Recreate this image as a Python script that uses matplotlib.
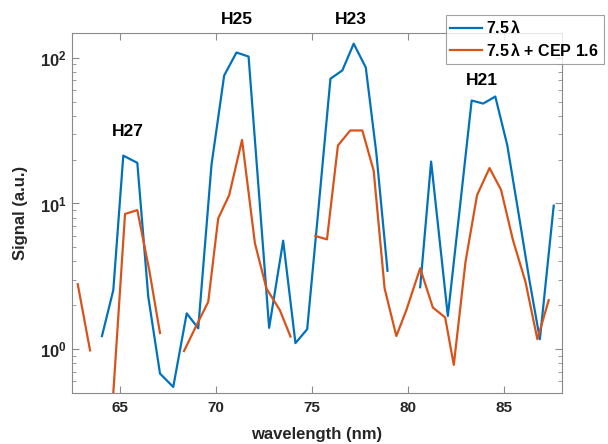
import numpy as np
import matplotlib
matplotlib.use("Agg")
import matplotlib.pyplot as plt
from matplotlib.ticker import LogLocator, NullFormatter

plt.rcParams['font.family'] = ['Liberation Sans', 'DejaVu Sans']
plt.rcParams['font.weight'] = 'bold'
plt.rcParams['mathtext.fontset'] = 'custom'
plt.rcParams['mathtext.rm'] = 'Liberation Sans:bold'
plt.rcParams['mathtext.bf'] = 'Liberation Sans:bold'
plt.rcParams['mathtext.it'] = 'Liberation Sans:bold'

nan = np.nan

# 7.5 lambda (blue)
wl_a = [64.06, 64.65, 65.17, 65.90, 66.47, 67.08, 67.77, 68.47, 69.07, 69.76,
        70.42, 71.06, 71.69, 72.20, 72.76, 73.49, 74.13, 74.74, 75.35, 75.95,
        76.57, 77.16, 77.79, 78.34, 78.92, 79.60, 80.62, 81.19, 82.06, 82.68,
        83.30, 83.90, 84.53, 85.15, 85.75, 86.30, 86.85, 87.57]
sig_a = [1.23, 2.54, 21.3, 19.0, 2.29, 0.68, 0.55, 1.76, 1.39, 18.4,
         75.6, 108.7, 102.0, 13.3, 1.40, 5.55, 1.10, 1.37, 9.9, 71.8,
         81.9, 125.0, 85.8, 22.1, 3.45, nan, 2.66, 19.4, 1.69, 9.2,
         50.9, 48.5, 54.2, 25.2, 8.4, 3.0, 1.17, 9.66]

# 7.5 lambda + CEP 1.6 (orange)
wl_b = [62.80, 63.44, 64.00, 64.65, 65.26, 65.90, 66.52, 67.08, 67.70, 68.33,
        68.95, 69.59, 70.11, 70.68, 71.35, 72.02, 72.62, 73.32, 73.87, 74.50,
        75.17, 75.77, 76.34, 76.98, 77.61, 78.20, 78.77, 79.38, 79.90, 80.62,
        81.28, 81.92, 82.37, 82.98, 83.58, 84.23, 84.83, 85.45, 86.10, 86.72,
        87.31]
sig_b = [2.79, 0.98, nan, 0.50, 8.47, 9.0, 3.49, 1.29, nan, 0.97,
         1.43, 2.11, 7.9, 11.4, 27.3, 5.33, 2.61, 1.85, 1.22, nan,
         5.98, 5.67, 25.0, 31.7, 31.7, 16.8, 2.61, 1.23, 1.85, 3.59,
         1.93, 1.65, 0.78, 3.98, 11.4, 17.5, 12.4, 5.6, 2.9, 1.17,
         2.17]

harmonics = ['H27', 'H25', 'H23', 'H21']
h_x = [65.43, 71.10, 77.00, 83.83]
h_y = [31.1, 182.0, 182.0, 69.5]

xticks = [65, 70, 75, 80, 85]

fig = plt.figure(figsize=(6.08, 4.44), dpi=100)
ax = fig.add_axes([0.1184, 0.1149, 0.8059, 0.8108])

ax.plot(wl_a, sig_a, color='#0072BD', lw=1.6, label=r'7.5$\,\lambda$')
ax.plot(wl_b, sig_b, color='#D95319', lw=1.6, label=r'7.5$\,\lambda$ + CEP 1.6')

ax.set_yscale('log')
ax.set_xlim(62.5, 88.0)
ax.set_ylim(0.5, 148)
ax.set_xticks(xticks)
ax.set_xticklabels([str(t) for t in xticks])
ax.yaxis.set_minor_locator(LogLocator(base=10, subs=np.arange(2, 10)))
ax.yaxis.set_minor_formatter(NullFormatter())
ax.set_yticks([1, 10, 100])
ax.set_yticklabels([r'$\mathbf{10^{0}}$', r'$\mathbf{10^{1}}$', r'$\mathbf{10^{2}}$'])

for s in ax.spines.values():
    s.set_color('#8a8a8a')
    s.set_linewidth(0.8)
ax.tick_params(which='both', direction='in', top=True, right=True,
               color='#8a8a8a', labelcolor='#262626')
ax.tick_params(axis='x', labelsize=11, pad=6)
ax.tick_params(axis='y', labelsize=12, pad=4)
ax.tick_params(which='major', length=5)
ax.tick_params(which='minor', length=3)

ax.set_xlabel('wavelength (nm)', fontsize=12, fontweight='bold', color='#262626')
ax.set_ylabel('Signal (a.u.)', fontsize=12, fontweight='bold', color='#262626')
ax.xaxis.set_label_coords(0.5, -0.095)
ax.yaxis.set_label_coords(-0.09, 0.5)

for lab, x, y in zip(harmonics, h_x, h_y):
    ax.text(x, y, lab, ha='center', va='center', fontsize=12.5,
            fontweight='bold', clip_on=False)

leg = ax.legend(loc='upper left', bbox_to_anchor=(445.7 / 608, 1 - 14.7 / 444),
                bbox_transform=fig.transFigure, fontsize=11.5, frameon=True,
                fancybox=False, borderpad=0.3, handlelength=2.0,
                handletextpad=0.25, labelspacing=0.35, borderaxespad=0)
leg.get_frame().set_edgecolor('#8a8a8a')
leg.get_frame().set_linewidth(0.8)
for t in leg.get_texts():
    t.set_fontweight('bold')

fig.savefig('out.png', dpi=100)
